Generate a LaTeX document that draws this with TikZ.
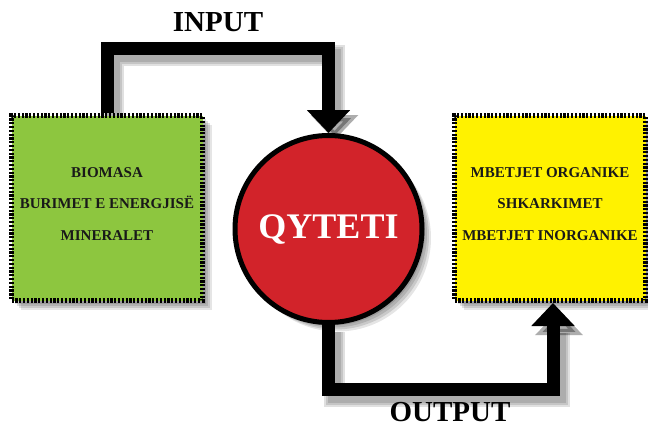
\documentclass[tikz,border=0pt]{standalone}
\usepackage{fontspec}
\setmainfont{Liberation Serif}
\usetikzlibrary{arrows.meta,shadows,backgrounds}
\definecolor{sourcegreen}{RGB}{141,198,63}
\definecolor{wasteyellow}{RGB}{255,242,0}
\definecolor{cityred}{RGB}{210,35,42}
\tikzstyle{soft shadow}=[general shadow={fill=black,opacity=.12,shadow xshift=3pt,shadow yshift=-3pt},
                         general shadow={fill=black,opacity=.12,shadow xshift=5pt,shadow yshift=-5pt},
                         general shadow={fill=black,opacity=.12,shadow xshift=7pt,shadow yshift=-7pt},
                         general shadow={fill=black,opacity=.10,shadow xshift=9pt,shadow yshift=-9pt}]
\tikzstyle{store}=[rectangle,draw=black,line width=5pt,dash pattern=on 2.2pt off 1.6pt,minimum width=191pt,minimum height=185pt,soft shadow,align=center,text=black!90,font=\bfseries\fontsize{15}{31.5}\selectfont]
\tikzstyle{city}=[circle,fill=cityred,draw=black,line width=5pt,minimum size=187pt,soft shadow,text=white,font=\bfseries\fontsize{36}{36}\selectfont]
\tikzstyle{flow}=[line width=13pt,-{Triangle[width=42pt,length=23pt]}]
\tikzstyle{flowshade}=[black,opacity=.12,transform canvas={shift={(6pt,-7pt)}},-{Triangle[width=46pt,length=25pt]}]
\tikzstyle{caption}=[font=\bfseries\fontsize{29}{29}\selectfont]

\begin{document}
\begin{tikzpicture}[x=1pt,y=-1pt]
                    \useasboundingbox (0,0) rectangle (648,428);
                    \node (src) at (107,208) [store,fill=sourcegreen] {BIOMASA\\BURIMET E ENERGJISË\\MINERALET\\[-23.5pt]};
                    \node (out) at (550,208) [store,fill=wasteyellow] {MBETJET ORGANIKE\\SHKARKIMET\\MBETJET INORGANIKE\\[-23.5pt]};
                    \node (qyt) at (328.5,229) [city] {QYTETI};
                    \node (in) at (218,22) [caption] {INPUT};
                    \node (outlbl) at (450,412) [caption] {OUTPUT};

                    \draw [flow] (src.north) -- ++(0,-64.5) -| (qyt.north);
                    \draw [flow] (qyt.south) -- ++(0,64.5) -| ([xshift=3pt]out.south);

                    \begin{pgfonlayer}{background}
                    \foreach \w in {21,17,13}
                        \draw [flowshade,line width=\w pt] (src.north) -- ++(0,-64.5) -| (qyt.north);
                    \foreach \w in {21,17,13}
                        \draw [flowshade,line width=\w pt] (qyt.south) -- ++(0,64.5) -| ([xshift=3pt]out.south);
                    \end{pgfonlayer}
                \end{tikzpicture}
\end{document}
